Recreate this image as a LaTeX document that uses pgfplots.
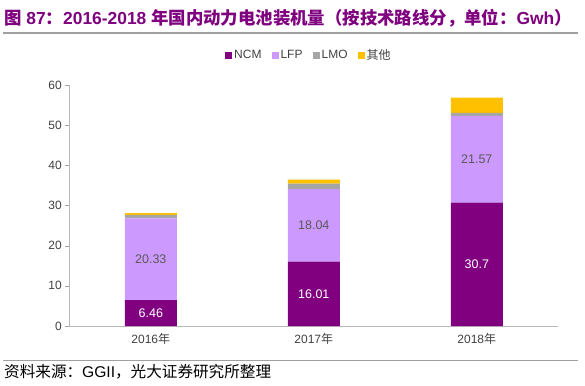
\documentclass[border=0pt]{standalone}
\usepackage{pgfplots}
\pgfplotsset{compat=1.18}
\usepackage{fontspec}
\setmainfont{Liberation Sans}
\newfontfamily\cjk{Noto Sans CJK SC}
\definecolor{ncm}{HTML}{800080}
\definecolor{lfp}{HTML}{CC99FF}
\definecolor{lmo}{HTML}{A6A6A6}
\definecolor{oth}{HTML}{FFC000}
\definecolor{titlec}{HTML}{7F007F}
\definecolor{tickc}{HTML}{404040}
\definecolor{labc}{HTML}{595959}
\definecolor{rulec}{HTML}{A0A0A0}
\begin{document}
\begin{tikzpicture}[x=1pt,y=1pt]
\path[use as bounding box] (0,0) rectangle (585,385);
\node[anchor=west, text=titlec, font=\fontsize{17.4}{19}\selectfont\bfseries, inner sep=0] at (4,367) {{\cjk 图} 87{\cjk ：}2016-2018 {\cjk 年国内动力电池装机量（按技术路线分，单位：}Gwh{\cjk ）}};
\draw[line width=2pt, rulec] (3,352) -- (578,352);
\draw[line width=0.8pt, rulec] (3,25) -- (578,25);
\node[anchor=west, inner sep=0, text=black, font=\fontsize{15.6}{17}\selectfont] at (4,13) {{\cjk 资料来源：}GGII{\cjk ，光大证券研究所整理}};
\begin{axis}[
  at={(69.3pt,59pt)}, anchor=south west,
  scale only axis, width=489pt, height=241pt,
  ybar stacked, bar width=52pt,
  xmin=-0.5, xmax=2.5, ymin=0, ymax=60,
  ytick={0,10,20,30,40,50,60},
  xtick={0,1,2},
  xticklabels={2016{\cjk 年},2017{\cjk 年},2018{\cjk 年}},
  x tick style={draw=none},
  extra x ticks={0.5,1.5},
  extra x tick labels={},
  extra x tick style={major tick length=4pt, tick align=inside, tick style={draw=lmo!60}},
  y tick style={draw=lmo},
  tick align=outside, major tick length=4pt,
  axis lines*=left,
  axis line style={draw=lmo!80, -},
  ticklabel style={font=\fontsize{12}{14}\selectfont, text=tickc},
  /pgf/number format/assume math mode=true,
  legend style={at={(0.49,1.124)}, anchor=center, draw=none, fill=none,
    legend columns=4, font=\fontsize{12}{14}\selectfont, text=tickc,
    /tikz/every even column/.append style={column sep=8pt},
    legend cell align=left, inner sep=0pt},
  mylegend/.style={legend image code/.code={\fill[##1] (0pt,-3.5pt) rectangle (7pt,3.5pt);}},
]
\addplot[fill=ncm, draw=none, mylegend] coordinates {(0,6.46) (1,16.01) (2,30.7)};
\addlegendentry{NCM}
\addplot[fill=lfp, draw=none, mylegend] coordinates {(0,20.33) (1,18.04) (2,21.57)};
\addlegendentry{LFP}
\addplot[fill=lmo, draw=none, mylegend] coordinates {(0,0.9) (1,1.4) (2,0.8)};
\addlegendentry{LMO}
\addplot[fill=oth, draw=none, mylegend] coordinates {(0,0.4) (1,1.0) (2,3.8)};
\addlegendentry{{\cjk 其他}}
\coordinate (a1) at (axis cs:0,3.23);
\coordinate (a2) at (axis cs:1,8.005);
\coordinate (a3) at (axis cs:2,15.35);
\coordinate (b1) at (axis cs:0,16.625);
\coordinate (b2) at (axis cs:1,25.03);
\coordinate (b3) at (axis cs:2,41.485);
\end{axis}
\begin{scope}[every node/.style={font=\fontsize{12.5}{14}\selectfont}]
\node[text=white] at (a1) {6.46};
\node[text=white] at (a2) {16.01};
\node[text=white] at (a3) {30.7};
\node[text=labc] at (b1) {20.33};
\node[text=labc] at (b2) {18.04};
\node[text=labc] at (b3) {21.57};
\end{scope}
\end{tikzpicture}
\end{document}
